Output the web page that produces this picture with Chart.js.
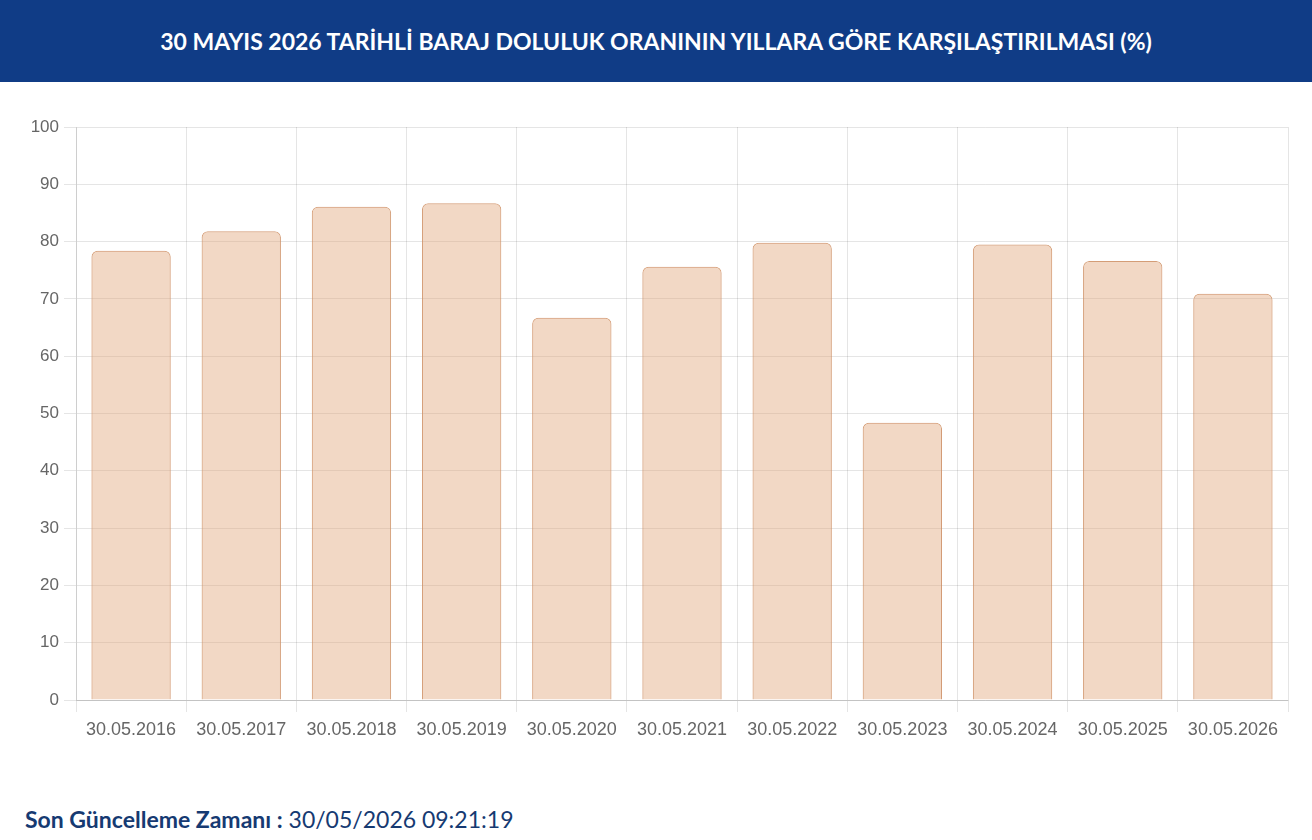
<!DOCTYPE html>
<html lang="tr">
<head>
<meta charset="utf-8">
<script src="https://cdn.jsdelivr.net/npm/chart.js@4.4.1/dist/chart.umd.min.js"></script>
<style>
  html, body { margin: 0; padding: 0; background: #fff; width: 1312px; height: 840px; overflow: hidden; }
  #banner { position: absolute; left: 0; top: 0; width: 1312px; height: 82px; background: #103C86;
    color: #fff; font-family: Lato, "Open Sans", sans-serif; font-weight: 700; font-size: 23px;
    display: flex; align-items: center; justify-content: center; letter-spacing: 0px; }
  #wrap { position: absolute; left: 0; top: 100px; width: 1312px; height: 660px; }
  #footer { position: absolute; left: 25px; top: 805px; font-family: Lato, "Open Sans", sans-serif;
    font-size: 23px; color: #163A72; white-space: nowrap; }
  #footer b { font-weight: 700; }
</style>
</head>
<body>
<div id="banner">30 MAYIS 2026 TARİHLİ BARAJ DOLULUK ORANININ YILLARA GÖRE KARŞILAŞTIRILMASI (%)</div>
<div id="wrap"><canvas id="c"></canvas></div>
<div id="footer"><b>Son Güncelleme Zamanı :</b> 30/05/2026 09:21:19</div>
<script>
const categories = ["30.05.2016","30.05.2017","30.05.2018","30.05.2019","30.05.2020","30.05.2021","30.05.2022","30.05.2023","30.05.2024","30.05.2025","30.05.2026"];
const fillRates = [78.4, 81.8, 86.1, 86.7, 66.7, 75.6, 79.8, 48.4, 79.5, 76.6, 70.9];
const yTicks = [0,10,20,30,40,50,60,70,80,90,100];

new Chart(document.getElementById('c'), {
  type: 'bar',
  data: {
    labels: categories,
    datasets: [{
      label: 'Doluluk (%)',
      data: fillRates,
      backgroundColor: 'rgba(222,157,110,0.4)',
      borderColor: 'rgba(205,140,95,0.85)',
      borderWidth: 1,
      borderRadius: 6,
      borderSkipped: 'bottom'
    }]
  },
  options: {
    responsive: true,
    maintainAspectRatio: false,
    animation: false,
    layout: { padding: { top: 27, right: 24, bottom: 10, left: 0 } },
    plugins: { legend: { display: false }, tooltip: { enabled: false } },
    scales: {
      x: {
        grid: { color: 'rgba(0,0,0,0.1)', tickLength: 12, offset: true },
        border: { color: 'rgba(0,0,0,0.15)' },
        ticks: { color: '#666', font: { family: '"Liberation Sans", Arial, sans-serif', size: 18 }, padding: 7, maxRotation: 0, autoSkip: false },
        afterFit: s => { s.height = 50; }
      },
      y: {
        min: 0, max: 100,
        afterBuildTicks: s => { s.ticks = yTicks.map(v => ({ value: v })); },
        grid: { color: 'rgba(0,0,0,0.1)', tickLength: 12 },
        border: { color: 'rgba(0,0,0,0.1)' },
        ticks: { color: '#666', font: { family: '"Liberation Sans", Arial, sans-serif', size: 17 }, padding: 5 },
        afterFit: s => { s.width = 76; }
      }
    }
  }
});
</script>
</body>
</html>
